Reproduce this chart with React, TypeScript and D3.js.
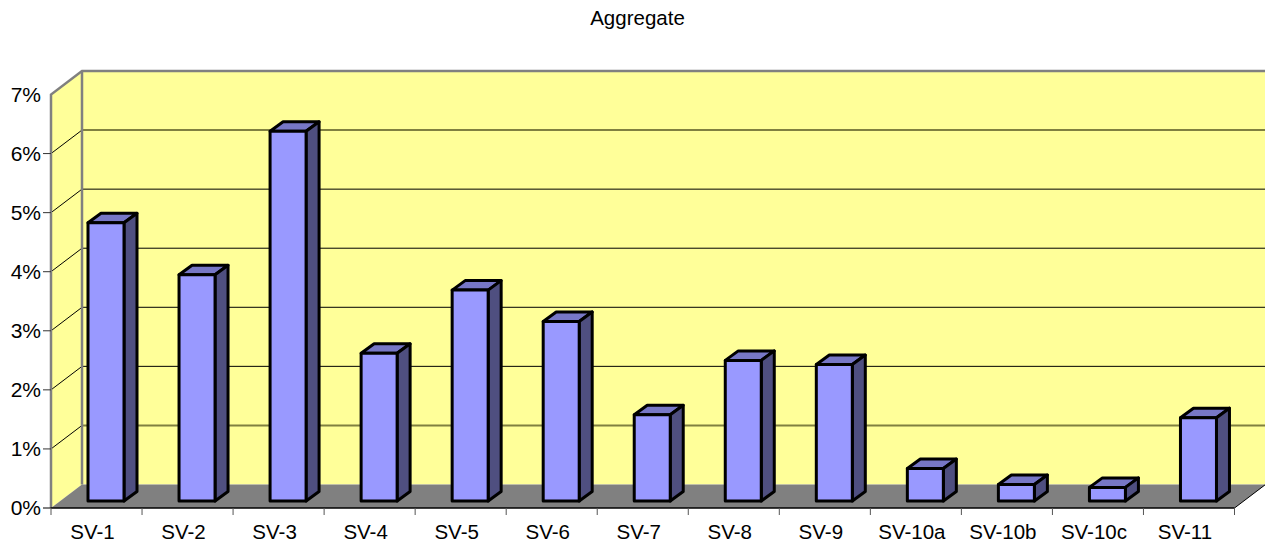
import React from "react";
import * as d3 from "d3";

const categories = ["SV-1", "SV-2", "SV-3", "SV-4", "SV-5", "SV-6", "SV-7", "SV-8", "SV-9", "SV-10a", "SV-10b", "SV-10c", "SV-11"];
const shares = [4.71, 3.83, 6.26, 2.5, 3.57, 3.04, 1.46, 2.38, 2.31, 0.55, 0.28, 0.23, 1.41];
const percentTicks = [0, 1, 2, 3, 4, 5, 6, 7];
const softGridTicks = [1, 6];
const chartTitle = "Aggregate";

const WIDTH = 1265;
const HEIGHT = 544;
const FONT = "'Liberation Sans', Arial, sans-serif";

// Oblique offset between the front plane and the back wall.
const DEPTH_X = 31;
const DEPTH_Y = -23.5;
// Offset of a bar's own side and top faces, and of its base from the front plane.
const BAR_DX = 13;
const BAR_DY = -9.5;
const BAR_BASE_LIFT = 7;
const BAR_INSET = 37;
const BAR_WIDTH = 36;

const WALL = "#FFFF99";
const FLOOR = "#808080";
const EDGE = "#808080";
const BAR_FRONT = "#9999FF";
const BAR_TOP = "#7777C6";
const BAR_SIDE = "#4F4F80";

const xBand = d3.scaleBand<string>().domain(categories).range([51, 1234.5]);
const yFront = d3.scaleLinear().domain([0, 7]).range([508, 94.5]);

const poly = (pts: [number, number][]) => pts.map((p) => p.join(",")).join(" ");

export default function App() {
  const x0 = xBand.range()[0];
  const x1 = xBand.range()[1];
  const y0 = yFront(0);
  const y7 = yFront(7);

  return (
    <svg
      width={WIDTH}
      height={HEIGHT}
      viewBox={`0 0 ${WIDTH} ${HEIGHT}`}
      style={{ position: "absolute", left: 0, top: 0, background: "#fff" }}
      fontFamily={FONT}
    >
      <text x={637.5} y={24.5} textAnchor="middle" fontSize={20.5} fill="#000">
        {chartTitle}
      </text>

      {/* Walls and floor */}
      <polygon points={poly([[x0 + DEPTH_X, y7 + DEPTH_Y], [x1 + DEPTH_X, y7 + DEPTH_Y], [x1 + DEPTH_X, y0 + DEPTH_Y], [x0 + DEPTH_X, y0 + DEPTH_Y]])} fill={WALL} />
      <polygon points={poly([[x0, y7], [x0 + DEPTH_X, y7 + DEPTH_Y], [x0 + DEPTH_X, y0 + DEPTH_Y], [x0, y0]])} fill={WALL} />
      <polygon points={poly([[x0, y0], [x0 + DEPTH_X, y0 + DEPTH_Y], [x1 + DEPTH_X, y0 + DEPTH_Y], [x1, y0]])} fill={FLOOR} />

      {/* Gridlines run across the side wall and the back wall */}
      {percentTicks.slice(1, -1).map((t) => {
        const soft = softGridTicks.includes(t);
        return (
          <g key={t} fill="none">
            <line x1={x0} y1={yFront(t)} x2={x0 + DEPTH_X} y2={yFront(t) + DEPTH_Y} stroke="#000" strokeWidth={1} />
            <line
              x1={x0 + DEPTH_X}
              y1={yFront(t) + DEPTH_Y}
              x2={x1 + DEPTH_X}
              y2={yFront(t) + DEPTH_Y}
              stroke={soft ? "#808040" : "#000"}
              strokeWidth={soft ? 2 : 1}
            />
          </g>
        );
      })}

      {/* Wall outline */}
      <polyline
        points={poly([[x0, y0], [x0, y7], [x0 + DEPTH_X, y7 + DEPTH_Y], [x1 + DEPTH_X, y7 + DEPTH_Y]])}
        fill="none"
        stroke={EDGE}
        strokeWidth={2.5}
      />
      <line x1={x0 + DEPTH_X} y1={y7 + DEPTH_Y} x2={x0 + DEPTH_X} y2={y0 + DEPTH_Y} stroke={EDGE} strokeWidth={2.5} />

      {/* Bars */}
      {categories.map((c, i) => {
        const left = (xBand(c) as number) + BAR_INSET;
        const right = left + BAR_WIDTH;
        const bottom = y0 - BAR_BASE_LIFT;
        const top = yFront(shares[i]) - BAR_BASE_LIFT;
        return (
          <g key={c} stroke="#000" strokeWidth={3} strokeLinejoin="round">
            <polygon points={poly([[left, top], [left + BAR_DX, top + BAR_DY], [right + BAR_DX, top + BAR_DY], [right, top]])} fill={BAR_TOP} />
            <polygon points={poly([[right, top], [right + BAR_DX, top + BAR_DY], [right + BAR_DX, bottom + BAR_DY], [right, bottom]])} fill={BAR_SIDE} />
            <rect x={left} y={top} width={BAR_WIDTH} height={bottom - top} fill={BAR_FRONT} />
          </g>
        );
      })}

      {/* Front axis lines and floor edge */}
      <line x1={x0} y1={y0} x2={x1} y2={y0} stroke="#000" strokeWidth={1.5} />
      <line x1={x1} y1={y0} x2={x1 + DEPTH_X} y2={y0 + DEPTH_Y} stroke="#000" strokeWidth={1} />

      {/* Value axis */}
      {percentTicks.map((t) => (
        <g key={t}>
          {t < 7 && <line x1={x0 - 8} y1={yFront(t)} x2={x0} y2={yFront(t)} stroke={t === 0 ? "#000" : "#333"} strokeWidth={1} />}
          <text x={41} y={yFront(t) + 7} textAnchor="end" fontSize={21} fill="#000">{`${t}%`}</text>
        </g>
      ))}

      {/* Category axis */}
      {d3.range(categories.length + 1).map((i) => {
        const tx = x0 + (i * (x1 - x0)) / categories.length;
        return <line key={i} x1={tx} y1={y0} x2={tx} y2={y0 + 7} stroke="#555" strokeWidth={1} />;
      })}
      {categories.map((c) => (
        <text
          key={c}
          x={(xBand(c) as number) + xBand.bandwidth() / 2 - 4}
          y={538.5}
          textAnchor="middle"
          fontSize={20.5}
          fill="#000"
        >
          {c}
        </text>
      ))}
    </svg>
  );
}
